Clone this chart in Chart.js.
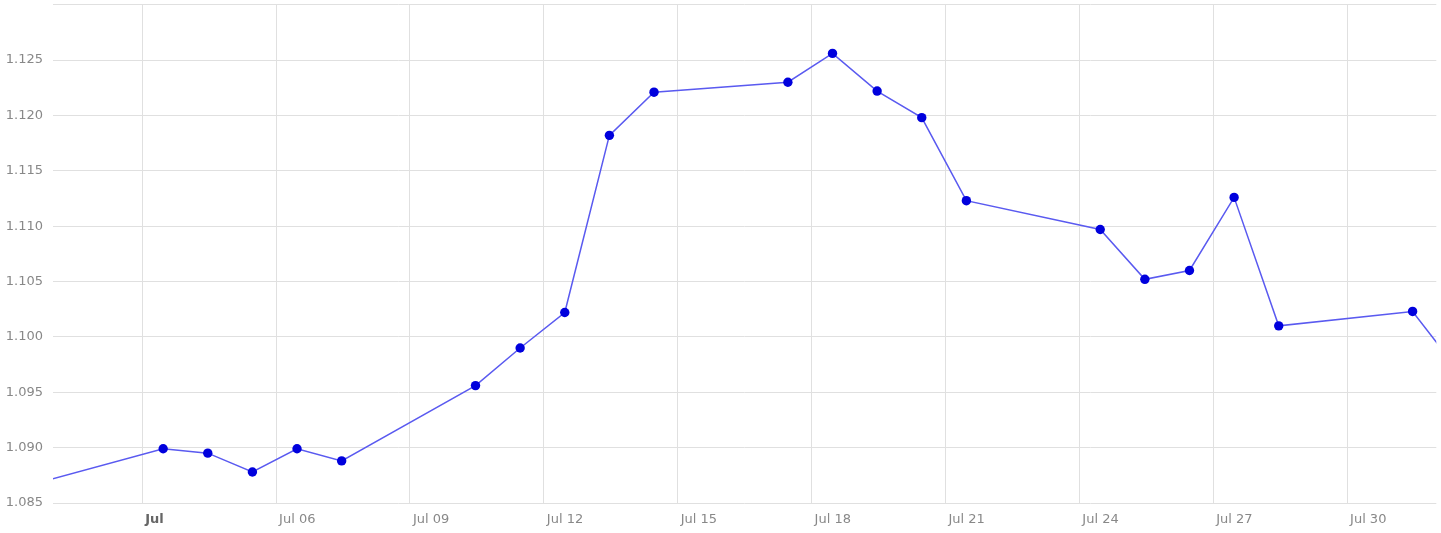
<!DOCTYPE html>
<html>
<head>
<meta charset="utf-8">
<script src="https://cdn.jsdelivr.net/npm/chart.js@4.4.0/dist/chart.umd.min.js"></script>
<style>
  html, body { margin: 0; padding: 0; background: #fff; }
  #wrap { width: 1441px; height: 533px; position: relative; }
</style>
</head>
<body>
<div id="wrap"><canvas id="rateChart"></canvas></div>
<script>
// trading days (day of July; 0 = Jun 30, 32 = Aug 1)
const tradeDays = [0, 3, 4, 5, 6, 7, 10, 11, 12, 13, 14, 17, 18, 19, 20, 21, 24, 25, 26, 27, 28, 31, 32];
const rates = [1.0866, 1.0899, 1.0895, 1.0878, 1.0899, 1.0888, 1.0956, 1.0990, 1.1022, 1.1182, 1.1221,
               1.1230, 1.1256, 1.1222, 1.1198, 1.1123, 1.1097, 1.1052, 1.1060, 1.1126, 1.1010, 1.1023, 1.0971];
const quoteHour = 11.25;           // quotes are stamped late morning
const tickDays = [3, 6, 9, 12, 15, 18, 21, 24, 27, 30];
const tickLabels = ['Jul', 'Jul 06', 'Jul 09', 'Jul 12', 'Jul 15', 'Jul 18', 'Jul 21', 'Jul 24', 'Jul 27', 'Jul 30'];
const yMin = 1.085, yMax = 1.130, yStep = 0.005;

const points = tradeDays.map((d, i) => ({ x: d + quoteHour / 24, y: rates[i] }));

const ctx = document.getElementById('rateChart').getContext('2d');
new Chart(ctx, {
    type: 'line',
    data: {
        datasets: [{
            data: points,
            borderColor: '#5a5af0',
            borderWidth: 1.5,
            pointBackgroundColor: '#0000dd',
            pointBorderColor: '#0000dd',
            pointRadius: 4.7,
            pointBorderWidth: 0,
            tension: 0,
            fill: false
        }]
    },
    options: {
        responsive: true,
        maintainAspectRatio: false,
        animation: false,
        layout: { padding: { top: 4, right: 1, left: 0, bottom: 0 } },
        plugins: {
            legend: { display: false },
            tooltip: { enabled: false }
        },
        scales: {
            x: {
                type: 'linear',
                min: 1,
                max: 32,
                afterBuildTicks: scale => {
                    scale.ticks = tickDays.map(v => ({ value: v }));
                },
                afterFit: scale => {
                    scale.height = 30;
                    scale.paddingLeft = 0;
                    scale.paddingRight = 0;
                },
                grid: { color: '#e0e0e0', lineWidth: 1, drawTicks: false },
                border: { display: false },
                ticks: {
                    autoSkip: false,
                    maxRotation: 0,
                    align: 'start',
                    labelOffset: 3,
                    padding: 9,
                    color: ctx => ctx.index === 0 ? '#666' : '#888',
                    font: ctx => ({
                        family: 'DejaVu Sans',
                        size: 13,
                        weight: ctx.index === 0 ? 'bold' : 'normal'
                    }),
                    callback: (v, i) => tickLabels[i]
                }
            },
            y: {
                min: yMin,
                max: yMax,
                afterFit: scale => {
                    scale.width = 53;
                    scale.paddingTop = 0;
                    scale.paddingBottom = 0;
                },
                grid: { color: '#e0e0e0', lineWidth: 1, drawTicks: false },
                border: { display: false },
                ticks: {
                    stepSize: yStep,
                    padding: 10,
                    color: '#888',
                    font: { family: 'DejaVu Sans', size: 13 },
                    callback: v => v > yMax - yStep / 2 ? '' : v.toFixed(3)
                }
            }
        }
    }
});
</script>
</body>
</html>
